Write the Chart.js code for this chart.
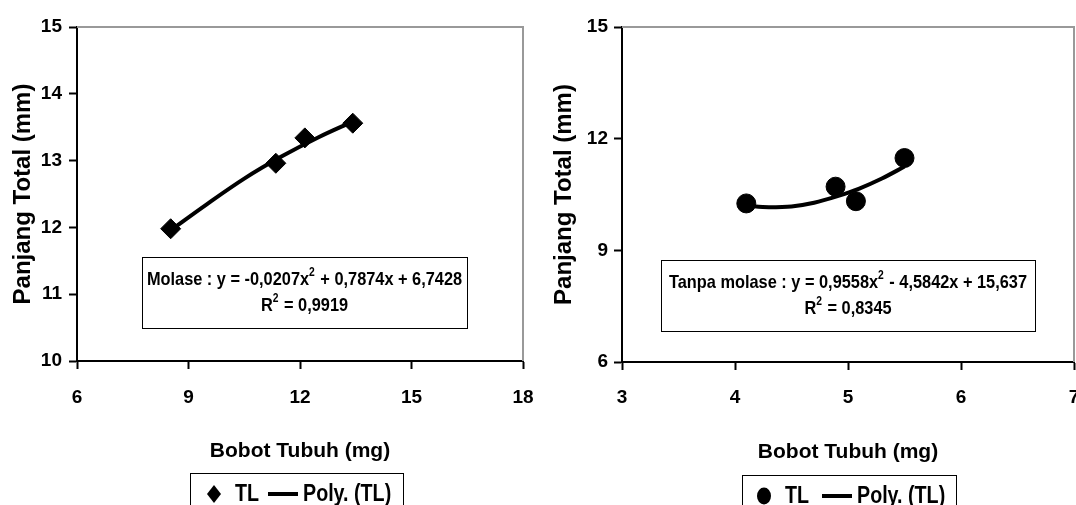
<!DOCTYPE html>
<html>
<head>
<meta charset="utf-8">
<script src="https://cdn.jsdelivr.net/npm/chart.js@4.4.1/dist/chart.umd.min.js"></script>
<style>
  html, body { margin: 0; padding: 0; background: #fff; }
  #wrap { position: relative; width: 1076px; height: 505px; overflow: hidden; }
  .panel { position: absolute; top: 0; width: 538px; height: 505px; }
</style>
</head>
<body>
<div id="wrap">
  <div class="panel" style="left:0"><canvas id="molaseChart" width="538" height="505"></canvas></div>
  <div class="panel" style="left:538px"><canvas id="tanpaChart" width="538" height="505"></canvas></div>
</div>
<script>
/**
 * Two scatter panels: Panjang Total vs Bobot Tubuh, with polynomial trend
 */

// ---- data ----
const molaseX = [8.52, 11.35, 12.13, 13.42];
const molaseY = [11.98, 12.96, 13.34, 13.56];
const molaseFitX = [8.5, 9.5, 10.5, 11.5, 12.5, 13.4];
const molaseFitY = [11.95, 12.35, 12.73, 13.06, 13.35, 13.58];

const tanpaX = [4.10, 4.89, 5.07, 5.50];
const tanpaY = [10.26, 10.71, 10.32, 11.48];
const tanpaFitX = [4.1, 4.3, 4.5, 4.7, 4.9, 5.1, 5.3, 5.5];
const tanpaFitY = [10.20, 10.16, 10.18, 10.28, 10.45, 10.66, 10.93, 11.25];

const molaseXTicks = [6, 9, 12, 15, 18];
const molaseYTicks = [10, 11, 12, 13, 14, 15];
const tanpaXTicks = [3, 4, 5, 6, 7];
const tanpaYTicks = [6, 9, 12, 15];

const xTitle = "Bobot Tubuh (mg)";
const yTitle = "Panjang Total (mm)";
const legendLabels = ["TL", "Poly. (TL)"];
const molaseEq = [["Molase : y = -0,0207x", "2", " + 0,7874x + 6,7428"], ["R", "2", " = 0,9919"]];
const tanpaEq = [["Tanpa molase : y = 0,9558x", "2", " - 4,5842x + 15,637"], ["R", "2", " = 0,8345"]];

const FONT = '"Liberation Sans", Arial, sans-serif';

const pts = (xs, ys) => xs.map((x, i) => ({ x: x, y: ys[i] }));

// text squeezed horizontally (the original uses a narrow face)
function narrowText(ctx, text, x, y, sx) {
  ctx.save();
  ctx.translate(x, y);
  ctx.scale(sx, 1);
  ctx.fillText(text, 0, 0);
  ctx.restore();
}

// draws "text" + superscript + "text" centred on cx
function drawSupLine(ctx, parts, cx, cy, size, sx) {
  const big = "bold " + size + "px " + FONT;
  const small = "bold " + Math.round(size * 0.62) + "px " + FONT;
  ctx.font = big;
  const w0 = ctx.measureText(parts[0]).width * sx;
  const w2 = ctx.measureText(parts[2]).width * sx;
  ctx.font = small;
  const w1 = ctx.measureText(parts[1]).width * sx + 1;
  let x = cx - (w0 + w1 + w2) / 2;
  ctx.textBaseline = "middle";
  ctx.textAlign = "left";
  ctx.fillStyle = "#000";
  ctx.font = big;
  narrowText(ctx, parts[0], x, cy, sx);
  x += w0;
  ctx.font = small;
  narrowText(ctx, parts[1], x, cy - size * 0.38, sx);
  x += w1;
  ctx.font = big;
  narrowText(ctx, parts[2], x, cy, sx);
}

const decorPlugin = {
  id: "decor",
  beforeDatasetsDraw(chart, args, opts) {
    const { ctx, chartArea: a } = chart;
    ctx.save();
    ctx.strokeStyle = "#999";
    ctx.lineWidth = 2;
    ctx.beginPath();
    ctx.moveTo(a.left, a.top);
    ctx.lineTo(a.right, a.top);
    ctx.lineTo(a.right, a.bottom);
    ctx.stroke();
    ctx.restore();
  },
  afterDraw(chart, args, opts) {
    const ctx = chart.ctx;
    ctx.save();
    // equation box
    const b = opts.eqBox;
    ctx.fillStyle = "#fff";
    ctx.fillRect(b.x, b.y, b.w, b.h);
    ctx.strokeStyle = "#000";
    ctx.lineWidth = 1;
    ctx.strokeRect(b.x + 0.5, b.y + 0.5, b.w, b.h);
    drawSupLine(ctx, opts.eq[0], b.x + b.w / 2, b.y + 23, 19, 0.86);
    drawSupLine(ctx, opts.eq[1], b.x + b.w / 2, b.y + 49, 19, 0.86);

    // legend box
    const l = opts.legend;
    ctx.strokeRect(l.x + 0.5, l.y + 0.5, l.w, 60);
    const cy = l.y + 21;
    ctx.fillStyle = "#000";
    ctx.beginPath();
    if (opts.marker === "diamond") {
      ctx.moveTo(l.markX, cy - 9);
      ctx.lineTo(l.markX + 7, cy);
      ctx.lineTo(l.markX, cy + 9);
      ctx.lineTo(l.markX - 7, cy);
    } else {
      ctx.ellipse(l.markX, cy, 7, 8.5, 0, 0, Math.PI * 2);
    }
    ctx.fill();
    ctx.font = "bold 24px " + FONT;
    ctx.textBaseline = "middle";
    ctx.textAlign = "left";
    narrowText(ctx, legendLabels[0], l.tlX, cy, 0.82);
    ctx.fillRect(l.lineX, cy - 2, l.lineW, 4);
    narrowText(ctx, legendLabels[1], l.polyX, cy, 0.82);
    ctx.restore();
  },
};

const Charts = {
  /**
   * Build one scatter panel
   */
  render: (id, cfg) => {
    const tickFont = { family: FONT, size: 19, weight: "bold" };
    return new Chart(document.getElementById(id).getContext("2d"), {
      type: "scatter",
      data: {
        datasets: [
          {
            label: legendLabels[0],
            data: pts(cfg.x, cfg.y),
            backgroundColor: "#000",
            borderColor: "#000",
            pointStyle: cfg.marker === "diamond" ? "rectRot" : "circle",
            pointRadius: cfg.marker === "diamond" ? 10 : 9.5,
            showLine: false,
          },
          {
            label: legendLabels[1],
            data: pts(cfg.fitX, cfg.fitY),
            borderColor: "#000",
            borderWidth: 4,
            pointRadius: 0,
            showLine: true,
            tension: 0.4,
            cubicInterpolationMode: "monotone",
          },
        ],
      },
      options: {
        responsive: false,
        animation: false,
        devicePixelRatio: 1,
        layout: { padding: cfg.padding, autoPadding: false },
        plugins: {
          legend: { display: false },
          tooltip: { enabled: false },
          decor: { eqBox: cfg.eqBox, eq: cfg.eq, legend: cfg.legend, marker: cfg.marker },
        },
        scales: {
          x: {
            type: "linear",
            min: cfg.xTicks[0],
            max: cfg.xTicks[cfg.xTicks.length - 1],
            afterBuildTicks: (s) => { s.ticks = cfg.xTicks.map((v) => ({ value: v })); },
            afterFit: (s) => { s.height = 110; s.paddingLeft = 0; s.paddingRight = 0; },
            border: { color: "#000", width: 2 },
            grid: { drawOnChartArea: false, tickLength: 8, tickColor: "#000", tickWidth: 2 },
            ticks: { color: "#000", font: tickFont, padding: cfg.xTickPad, maxRotation: 0 },
            title: {
              display: true,
              text: xTitle,
              color: "#000",
              font: { family: FONT, size: 21, weight: "bold", lineHeight: 1 },
              padding: { top: 0, bottom: 9 },
            },
          },
          y: {
            type: "linear",
            min: cfg.yTicks[0],
            max: cfg.yTicks[cfg.yTicks.length - 1],
            afterBuildTicks: (s) => { s.ticks = cfg.yTicks.map((v) => ({ value: v })); },
            afterFit: (s) => { s.width = cfg.yWidth; s.paddingTop = 0; s.paddingBottom = 0; },
            border: { color: "#000", width: 2 },
            grid: { drawOnChartArea: false, tickLength: 8, tickColor: "#000", tickWidth: 2 },
            ticks: { color: "#000", font: tickFont, padding: cfg.yTickPad },
            title: {
              display: true,
              text: yTitle,
              color: "#000",
              font: { family: FONT, size: 24, weight: "bold", lineHeight: 1 },
              padding: { top: cfg.yTitlePad, bottom: 0 },
            },
          },
        },
      },
      plugins: [decorPlugin],
    });
  },
};

Charts.render("molaseChart", {
  x: molaseX, y: molaseY, fitX: molaseFitX, fitY: molaseFitY,
  xTicks: molaseXTicks, yTicks: molaseYTicks,
  marker: "diamond",
  padding: { top: 27, right: 15, left: 0, bottom: 34 },
  yWidth: 77, yTickPad: 7, xTickPad: 17, yTitlePad: 11,
  eq: molaseEq,
  eqBox: { x: 142, y: 257, w: 325, h: 71 },
  legend: { x: 190, y: 473, w: 213, markX: 214, tlX: 235, lineX: 268, lineW: 30, polyX: 303 },
});

Charts.render("tanpaChart", {
  x: tanpaX, y: tanpaY, fitX: tanpaFitX, fitY: tanpaFitY,
  xTicks: tanpaXTicks, yTicks: tanpaYTicks,
  marker: "circle",
  padding: { top: 27, right: 2, left: 0, bottom: 33 },
  yWidth: 84, yTickPad: 6, xTickPad: 16, yTitlePad: 14,
  eq: tanpaEq,
  eqBox: { x: 123, y: 260, w: 374, h: 71 },
  legend: { x: 204, y: 475, w: 214, markX: 226, tlX: 247, lineX: 284, lineW: 30, polyX: 319 },
});
</script>
</body>
</html>
